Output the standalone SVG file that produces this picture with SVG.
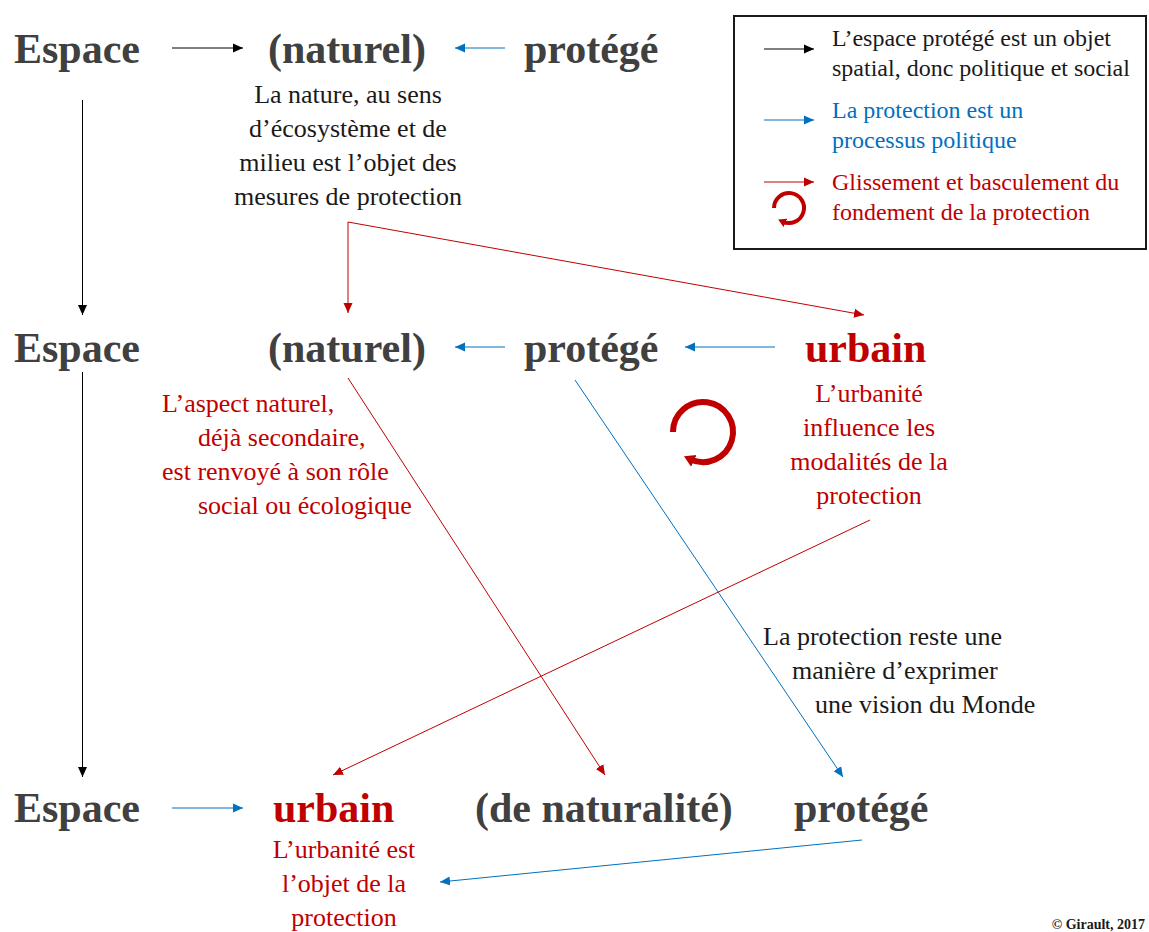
<svg xmlns="http://www.w3.org/2000/svg" width="1149" height="932" viewBox="0 0 1149 932">
<style>
text{font-family:"Liberation Serif","DejaVu Serif",serif}
.big{font-size:42px;font-weight:bold;fill:#404040}
.bigr{font-size:42px;font-weight:bold;fill:#C00000}
.t{font-size:26px;fill:#1a1a1a}
.tr{font-size:26px;fill:#C00000}
.lg{font-size:24px;fill:#1a1a1a}
.lgb{font-size:24px;fill:#0070C0}
.lgr{font-size:24px;fill:#C00000}
.c{text-anchor:middle}
.k{stroke:#000;stroke-width:1;fill:none}
.b{stroke:#0070C0;stroke-width:1;fill:none}
.r{stroke:#C00000;stroke-width:1;fill:none}
</style>
<defs>
<marker id="ak" markerUnits="userSpaceOnUse" markerWidth="12" markerHeight="10" refX="10" refY="5" orient="auto"><path d="M0,0.5 L10,5 L0,9.5 z" fill="#000"/></marker>
<marker id="ab" markerUnits="userSpaceOnUse" markerWidth="12" markerHeight="10" refX="10" refY="5" orient="auto"><path d="M0,0.5 L10,5 L0,9.5 z" fill="#0070C0"/></marker>
<marker id="ar" markerUnits="userSpaceOnUse" markerWidth="12" markerHeight="10" refX="10" refY="5" orient="auto"><path d="M0,0.5 L10,5 L0,9.5 z" fill="#C00000"/></marker>
<marker id="arc" markerUnits="userSpaceOnUse" markerWidth="14" markerHeight="14" refX="4" refY="7" orient="auto"><path d="M0,0.5 L11,7 L0,13.5 z" fill="#C00000"/></marker>
<marker id="arcs" markerUnits="userSpaceOnUse" markerWidth="10" markerHeight="10" refX="3" refY="5" orient="auto"><path d="M0,0.5 L8,5 L0,9.5 z" fill="#C00000"/></marker>
</defs>

<g id="connectors">
<line class="k" x1="172" y1="48" x2="243" y2="48" marker-end="url(#ak)"/>
<line class="b" x1="505" y1="48" x2="455" y2="48" marker-end="url(#ab)"/>
<line class="k" x1="82.5" y1="100" x2="82.5" y2="315" marker-end="url(#ak)"/>
<line class="k" x1="82.5" y1="372" x2="82.5" y2="777" marker-end="url(#ak)"/>
<line class="r" x1="348" y1="222" x2="348" y2="313" marker-end="url(#ar)"/>
<line class="r" x1="348" y1="222" x2="864" y2="315" marker-end="url(#ar)"/>
<line class="b" x1="505" y1="347" x2="455" y2="347" marker-end="url(#ab)"/>
<line class="b" x1="775" y1="347" x2="685" y2="347" marker-end="url(#ab)"/>
<line class="r" x1="348" y1="378" x2="605" y2="775" marker-end="url(#ar)"/>
<line class="b" x1="575" y1="380" x2="843" y2="777" marker-end="url(#ab)"/>
<line class="r" x1="870" y1="520" x2="333" y2="775" marker-end="url(#ar)"/>
<line class="b" x1="172" y1="808" x2="243" y2="808" marker-end="url(#ab)"/>
<line class="b" x1="862" y1="840" x2="440" y2="882" marker-end="url(#ab)"/>
<path d="M673,432 A30,30 0 1 1 690.3,459.2" stroke="#C00000" stroke-width="6" fill="none" marker-end="url(#arc)"/>
</g>

<g id="row1">
<text class="big" x="14" y="63">Espace</text>
<text class="big" x="268" y="63">(naturel)</text>
<text class="big" x="524" y="63">protégé</text>
</g>
<g id="note1">
<text class="t c" x="348" y="103">La nature, au sens</text>
<text class="t c" x="348" y="137">d’écosystème et de</text>
<text class="t c" x="348" y="171">milieu est l’objet des</text>
<text class="t c" x="348" y="205">mesures de protection</text>
</g>

<g id="row2">
<text class="big" x="14" y="362">Espace</text>
<text class="big" x="268" y="362">(naturel)</text>
<text class="big" x="524" y="362">protégé</text>
<text class="bigr" x="805" y="362">urbain</text>
</g>
<g id="note2">
<text class="tr" x="162" y="412">L’aspect naturel,</text>
<text class="tr" x="198" y="446">déjà secondaire,</text>
<text class="tr" x="162" y="480">est renvoyé à son rôle</text>
<text class="tr" x="198" y="514">social ou écologique</text>
</g>
<g id="note3">
<text class="tr c" x="869" y="402">L’urbanité</text>
<text class="tr c" x="869" y="436">influence les</text>
<text class="tr c" x="869" y="470">modalités de la</text>
<text class="tr c" x="869" y="504">protection</text>
</g>
<g id="note4">
<text class="t" x="763" y="645">La protection reste une</text>
<text class="t" x="792" y="679">manière d’exprimer</text>
<text class="t" x="815" y="713">une vision du Monde</text>
</g>

<g id="row3">
<text class="big" x="14" y="822">Espace</text>
<text class="bigr" x="273" y="822">urbain</text>
<text class="big" x="475" y="822">(de naturalité)</text>
<text class="big" x="794" y="822">protégé</text>
</g>
<g id="note5">
<text class="tr c" x="344" y="858">L’urbanité est</text>
<text class="tr c" x="344" y="892">l’objet de la</text>
<text class="tr c" x="344" y="926">protection</text>
</g>

<g id="legend">
<rect x="734" y="16" width="412" height="233" fill="none" stroke="#1a1a1a" stroke-width="2"/>
<line class="k" x1="764" y1="49" x2="814" y2="49" marker-end="url(#ak)"/>
<line class="b" x1="764" y1="120" x2="814" y2="120" marker-end="url(#ab)"/>
<line class="r" x1="764" y1="182" x2="814" y2="182" marker-end="url(#ar)"/>
<path d="M774,208 A15,15 0 1 1 782.7,221.6" stroke="#C00000" stroke-width="4" fill="none" marker-end="url(#arcs)"/>
<text class="lg" x="832" y="46">L’espace protégé est un objet</text>
<text class="lg" x="832" y="76">spatial, donc politique et social</text>
<text class="lgb" x="832" y="118">La protection est un</text>
<text class="lgb" x="832" y="148">processus politique</text>
<text class="lgr" x="832" y="190">Glissement et basculement du</text>
<text class="lgr" x="832" y="220">fondement de la protection</text>
</g>

<g id="credit">
<text x="1145" y="929" text-anchor="end" font-size="14" font-weight="bold" fill="#1a1a1a">© Girault, 2017</text>
</g>
</svg>
